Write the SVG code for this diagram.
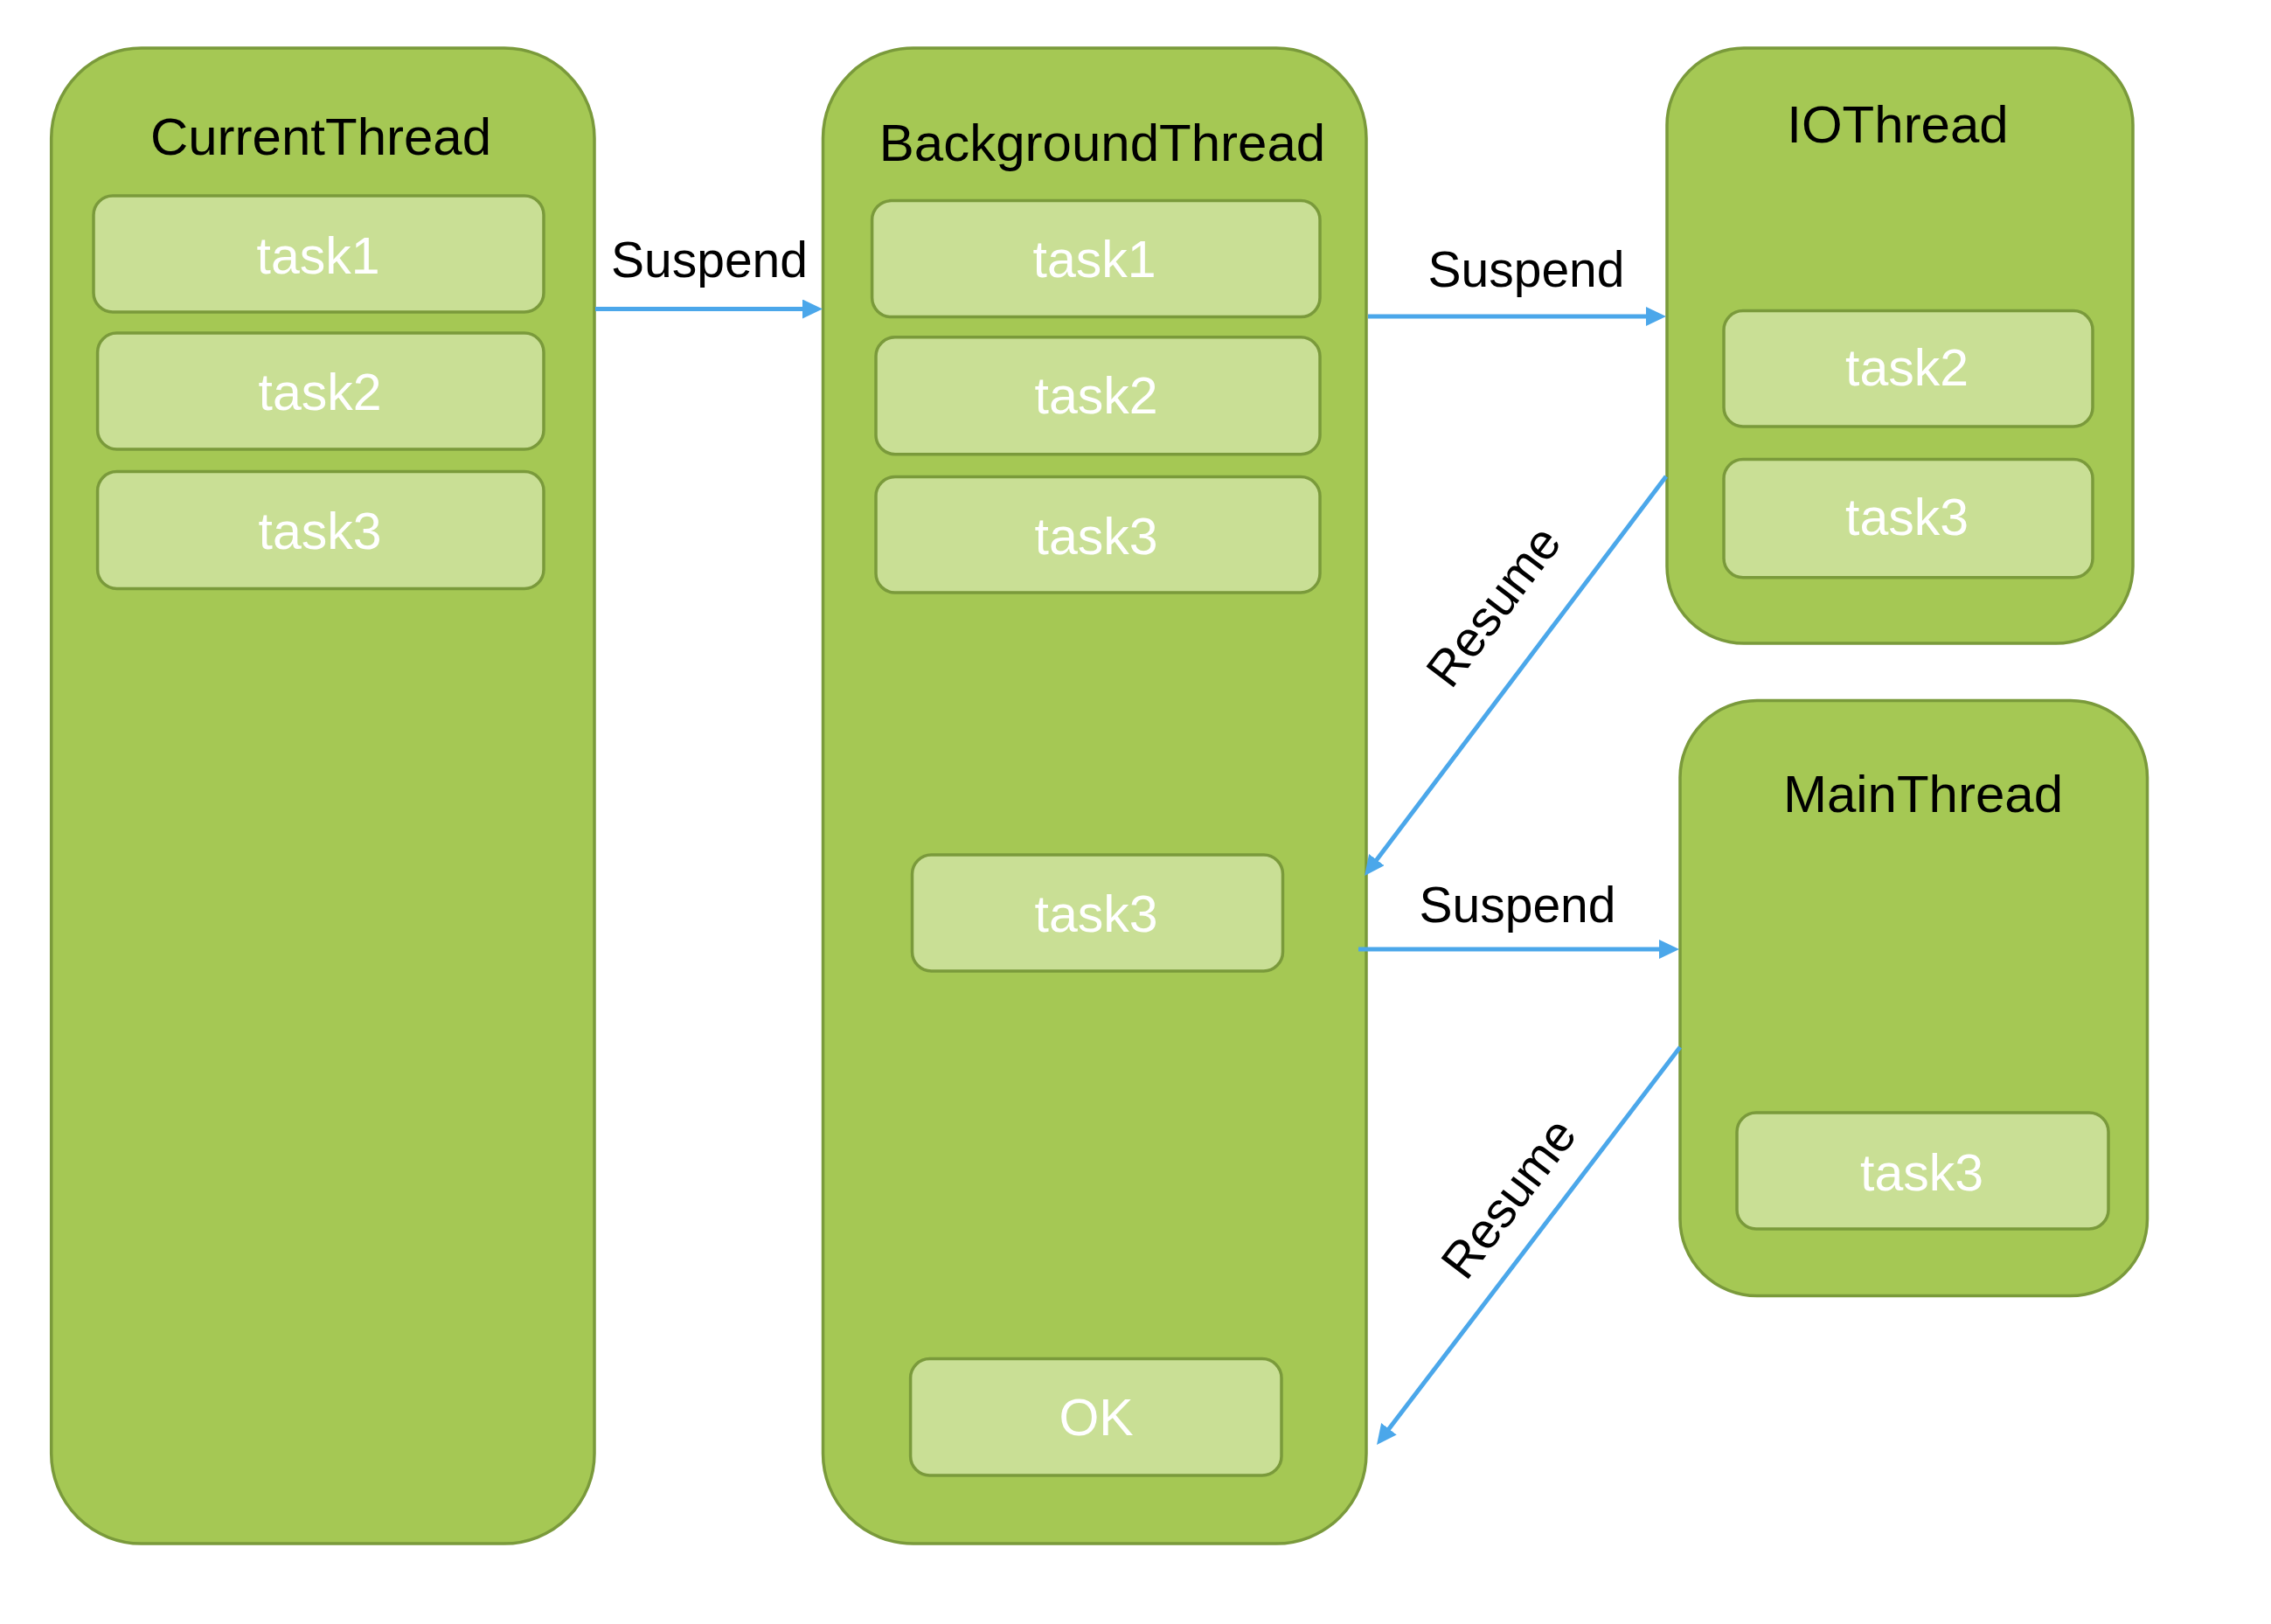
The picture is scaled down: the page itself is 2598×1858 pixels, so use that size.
<svg xmlns="http://www.w3.org/2000/svg" width="2598" height="1858" viewBox="0 0 2598 1858">
<style>
.thread{fill:#A5C854;stroke:#7A9A3B;stroke-width:3.5}
.task{fill:#C9DF95;stroke:#7A9A3B;stroke-width:3.5}
.title{font-family:"Liberation Sans",Arial,sans-serif;font-size:60px;fill:#000;text-anchor:middle}
.tt{font-family:"Liberation Sans",Arial,sans-serif;font-size:59px;fill:#fff;text-anchor:middle}
.lbl{font-family:"Liberation Sans",Arial,sans-serif;font-size:57px;fill:#000}
.conn{stroke:#4BA7EA;stroke-width:5;fill:none;marker-end:url(#ah)}
</style>
<defs>
<marker id="ah" markerUnits="userSpaceOnUse" markerWidth="24" markerHeight="24" refX="7" refY="11" orient="auto">
<path d="M0,0 L23,11 L0,22 Z" fill="#4BA7EA"/>
</marker>
</defs>
<rect width="2598" height="1858" fill="#fff"/>
<g id="current-thread">
<rect class="thread" x="58.7" y="55" width="621.3" height="1711" rx="103" ry="103"/>
<text class="title" x="367" y="177">CurrentThread</text>
<g id="ct-task1"><rect class="task" x="107" y="224" width="515" height="133" rx="22"/><text class="tt" x="364" y="313">task1</text></g>
<g id="ct-task2"><rect class="task" x="111.6" y="381" width="510.4" height="133" rx="22"/><text class="tt" x="366" y="469">task2</text></g>
<g id="ct-task3"><rect class="task" x="111.6" y="539.5" width="510.4" height="134" rx="22"/><text class="tt" x="366" y="628">task3</text></g>
</g>
<g id="background-thread">
<rect class="thread" x="941.5" y="55" width="621.5" height="1711" rx="103" ry="103"/>
<text class="title" x="1261" y="184">BackgroundThread</text>
<g id="bg-task1"><rect class="task" x="997.6" y="229.6" width="512.4" height="133" rx="22"/><text class="tt" x="1252" y="317">task1</text></g>
<g id="bg-task2"><rect class="task" x="1002" y="385.7" width="508" height="134" rx="22"/><text class="tt" x="1254" y="473">task2</text></g>
<g id="bg-task3"><rect class="task" x="1002" y="545.5" width="508" height="132.5" rx="22"/><text class="tt" x="1254" y="633.6">task3</text></g>
<g id="bg-task3b"><rect class="task" x="1043.5" y="978" width="424" height="133" rx="22"/><text class="tt" x="1254" y="1065.6">task3</text></g>
<g id="bg-ok"><rect class="task" x="1041.6" y="1554.5" width="424.4" height="133.5" rx="22"/><text class="tt" x="1254" y="1641.6">OK</text></g>
</g>
<g id="io-thread">
<rect class="thread" x="1907" y="55" width="533" height="681" rx="88" ry="88"/>
<text class="title" x="2171" y="163">IOThread</text>
<g id="io-task2"><rect class="task" x="1972" y="355.6" width="422" height="132.4" rx="22"/><text class="tt" x="2181.6" y="441">task2</text></g>
<g id="io-task3"><rect class="task" x="1972" y="525.5" width="422" height="135.2" rx="22"/><text class="tt" x="2181.6" y="612">task3</text></g>
</g>
<g id="main-thread">
<rect class="thread" x="1922" y="801.5" width="534.5" height="681" rx="88" ry="88"/>
<text class="title" x="2200" y="929">MainThread</text>
<g id="main-task3"><rect class="task" x="1987" y="1273" width="425" height="133" rx="22"/><text class="tt" x="2198.6" y="1361.6">task3</text></g>
</g>
<g id="connectors">
<path class="conn" d="M681,353.5 L925,353.5"/>
<path class="conn" d="M1565,362 L1890,362"/>
<path class="conn" d="M1554,1086 L1905,1086"/>
<path class="conn" d="M1906,545 L1570.7,989.2"/>
<path class="conn" d="M1922,1198 L1584.7,1640.3"/>
<text class="lbl" x="811.5" y="317" text-anchor="middle">Suspend</text>
<text class="lbl" x="1746" y="328" text-anchor="middle">Suspend</text>
<text class="lbl" x="1736" y="1054.5" text-anchor="middle">Suspend</text>
<text class="lbl" transform="translate(1660,790) rotate(-52.9)">Resume</text>
<text class="lbl" transform="translate(1677,1467) rotate(-52.7)">Resume</text>
</g>
</svg>
